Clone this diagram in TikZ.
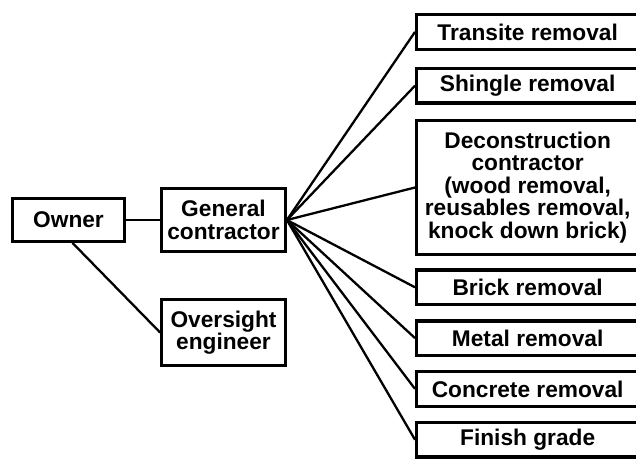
\documentclass[tikz,border=0pt]{standalone}
\usepackage{fontspec}
\setmainfont{Liberation Sans}
\usepackage{tikz}
\usetikzlibrary{positioning}

\tikzset{
  orgbox/.style={draw, line width=3.3pt, align=center, inner sep=1pt},
  jobbox/.style={orgbox, minimum width=222pt, minimum height=34.5pt, anchor=north west},
  link/.style={line width=2.3pt}
}

\begin{document}
\begin{tikzpicture}[x=1pt,y=1pt,font=\bfseries\fontsize{22.7}{22.6}\selectfont]
				\useasboundingbox (0,0) rectangle (636,-458);

				%--------------------------------------------------------------------
				\node(owner) [orgbox, minimum width=111.5pt, minimum height=42.5pt] at (68.5,-220) {Owner};
				\node(general) [orgbox, minimum width=123.5pt, minimum height=62.5pt] at (223.5,-220) {General\\contractor};
				\node(oversight) [orgbox, minimum width=123.5pt, minimum height=65.5pt] at (223.5,-332.5) {Oversight\\engineer};

				%--------------------------------------------------------------------
				\node(transite) [jobbox] at (415,-13) {Transite removal};
				\node(shingle) [jobbox, below=16pt of transite.south west, anchor=north west] {Shingle removal};
				\node(decon) [jobbox, minimum height=134.5pt, below=14pt of shingle.south west, anchor=north west] {Deconstruction\\contractor\\(wood removal,\\reusables removal,\\knock down brick)};
				\node(brick) [jobbox, below=12pt of decon.south west, anchor=north west] {Brick removal};
				\node(metal) [jobbox, below=13pt of brick.south west, anchor=north west] {Metal removal};
				\node(concrete) [jobbox, below=13pt of metal.south west, anchor=north west] {Concrete removal};
				\node(finish) [jobbox, below=13pt of concrete.south west, anchor=north west] {Finish grade};

				%--------------------------------------------------------------------
				\draw[link] (owner) -- (general);
				\draw[link] ([xshift=4pt]owner.south) -- (oversight.west);
				\foreach \job in {transite, shingle, decon, brick, metal, concrete, finish}
					\draw[link] (general.east) -- (\job.west);

			\end{tikzpicture}
\end{document}
